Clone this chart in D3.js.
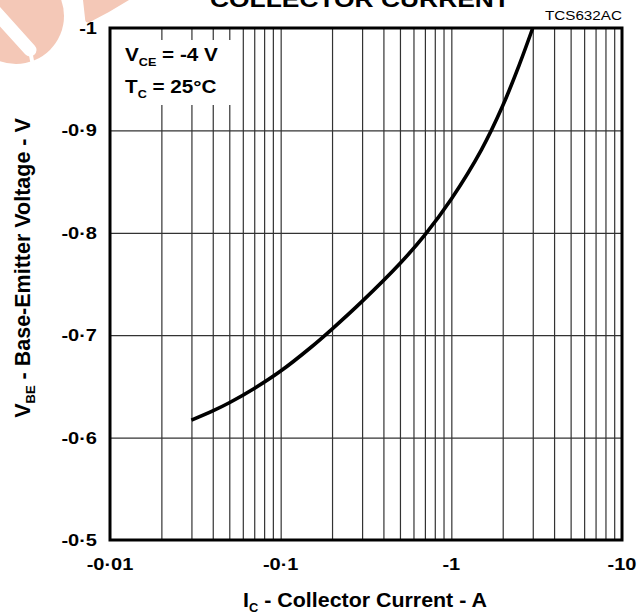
<!DOCTYPE html>
<html>
<head>
<meta charset="utf-8">
<script src="https://cdn.jsdelivr.net/npm/d3@7"></script>
<style>
  body { margin: 0; background: #fff; }
  svg { display: block; }
  text { font-family: "Liberation Sans", Arial, Helvetica, sans-serif; fill: #000; }
  .grid line { stroke: #333; stroke-width: 1.2; }
  .grid path { display: none; }
</style>
</head>
<body>
<div class="chart"></div>
<script>
// collector current (A) and base-emitter voltage (V)
const current = [-0.03, -0.04, -0.05, -0.07, -0.1, -0.15, -0.2, -0.3, -0.5, -0.7, -1.0, -1.5, -2.0, -2.5, -3.0];
const vbe = [-0.617, -0.626, -0.634, -0.648, -0.665, -0.688, -0.706, -0.733, -0.770, -0.798, -0.833, -0.881, -0.924, -0.964, -1.0];

const xTicks = [-0.01, -0.1, -1, -10];
const xTickLabels = ["-0·01", "-0·1", "-1", "-10"];
const yTicks = [-1, -0.9, -0.8, -0.7, -0.6, -0.5];
const yTickLabels = ["-1", "-0·9", "-0·8", "-0·7", "-0·6", "-0·5"];

const svgWidth = 637, svgHeight = 615;
const plotLeft = 110, plotRight = 622, plotTop = 28, plotBottom = 540;

let svg = d3.select(".chart").append("svg")
    .attr("width", svgWidth)
    .attr("height", svgHeight)

// faint logo watermark in the corner
const pink = "#f4c8b7";
svg.append("circle").attr("cx", 16).attr("cy", 16).attr("r", 48).style("fill", pink)
svg.append("path")
    .attr("d", "M-6,10 L30,50")
    .style("stroke", "#fff").style("stroke-width", 13).style("stroke-linecap", "round")
svg.append("path")
    .attr("d", "M30,50 L33,66")
    .style("stroke", "#fff").style("stroke-width", 4)
svg.append("path")
    .attr("d", "M83,0 L129,0 Q110,12 90,22 Q85,24 85,18 Z")
    .style("fill", pink)

let x = d3.scaleLog()
    .domain([-0.01, -10])
    .range([plotLeft, plotRight])

let y = d3.scaleLinear()
    .domain([-0.5, -1])
    .range([plotBottom, plotTop])

// minor/major log grid
let gridX = [];
[-0.01, -0.1, -1].forEach(d => {
    for (let k = 1; k <= 9; k++) if (!(k === 1 && d === -0.01)) gridX.push(d * k);
});

svg.append("g")
    .attr("class", "grid")
    .attr("transform", `translate(0, ${plotBottom})`)
    .call(d3.axisBottom(x).tickValues(gridX).tickSize(-(plotBottom - plotTop)).tickFormat(""))

svg.append("g")
    .attr("class", "grid")
    .attr("transform", `translate(${plotLeft}, 0)`)
    .call(d3.axisLeft(y).tickValues([-0.9, -0.8, -0.7, -0.6]).tickSize(-(plotRight - plotLeft)).tickFormat(""))

// legend box hides the grid behind it
svg.append("rect")
    .attr("x", plotLeft + 2).attr("y", 40)
    .attr("width", 124).attr("height", 65)
    .style("fill", "#fff")

let line = d3.line()
    .x((d, i) => x(current[i]))
    .y(d => y(d))
    .curve(d3.curveCatmullRom.alpha(0.5))

svg.append("path")
    .datum(vbe)
    .attr("d", line)
    .style("fill", "none")
    .style("stroke", "#000")
    .style("stroke-width", 3.6)
    .style("stroke-linejoin", "round")

svg.append("rect")
    .attr("x", plotLeft).attr("y", plotTop)
    .attr("width", plotRight - plotLeft).attr("height", plotBottom - plotTop)
    .style("fill", "none")
    .style("stroke", "#000")
    .style("stroke-width", 3)

// tick labels
svg.selectAll(".xlab")
    .data(xTicks)
    .enter().append("text")
    .attr("transform", d => `translate(${x(d)}, 570) scale(1.25, 1)`)
    .attr("text-anchor", "middle")
    .style("font-size", "16px")
    .style("font-weight", "bold")
    .text((d, i) => xTickLabels[i])

svg.selectAll(".ylab")
    .data(yTicks)
    .enter().append("text")
    .attr("transform", d => `translate(97, ${y(d) + 6}) scale(1.25, 1)`)
    .attr("text-anchor", "end")
    .style("font-size", "16px")
    .style("font-weight", "bold")
    .text((d, i) => yTickLabels[i])

// titles
svg.append("text")
    .attr("transform", "translate(360, 7) scale(1.2, 1)")
    .attr("text-anchor", "middle")
    .style("font-size", "22px")
    .style("font-weight", "bold")
    .text("COLLECTOR CURRENT")

svg.append("text")
    .attr("transform", "translate(622, 20) scale(1.22, 1)")
    .attr("text-anchor", "end")
    .style("font-size", "12.5px")
    .text("TCS632AC")

let xt = svg.append("text")
    .attr("transform", "translate(365, 607) scale(1.07, 1)")
    .attr("text-anchor", "middle")
    .style("font-size", "20px")
    .style("font-weight", "bold")
xt.append("tspan").text("I")
xt.append("tspan").attr("dy", 5).style("font-size", "12px").text("C")
xt.append("tspan").attr("dy", -5).text(" - Collector Current - A")

let yt = svg.append("text")
    .attr("transform", "translate(30, 268) rotate(-90)")
    .attr("text-anchor", "middle")
    .style("font-size", "21.5px")
    .style("font-weight", "bold")
yt.append("tspan").text("V")
yt.append("tspan").attr("dy", 5).style("font-size", "13px").text("BE")
yt.append("tspan").attr("dy", -5).text(" - Base-Emitter Voltage - V")

// conditions
let l1 = svg.append("text")
    .attr("transform", "translate(125, 61) scale(1.15, 1)")
    .style("font-size", "18px")
    .style("font-weight", "bold")
l1.append("tspan").text("V")
l1.append("tspan").attr("dy", 5).style("font-size", "11px").text("CE")
l1.append("tspan").attr("dy", -5).text(" = -4 V")

let l2 = svg.append("text")
    .attr("transform", "translate(125, 93) scale(1.15, 1)")
    .style("font-size", "18px")
    .style("font-weight", "bold")
l2.append("tspan").text("T")
l2.append("tspan").attr("dy", 5).style("font-size", "11px").text("C")
l2.append("tspan").attr("dy", -5).text(" = 25°C")
</script>
</body>
</html>
